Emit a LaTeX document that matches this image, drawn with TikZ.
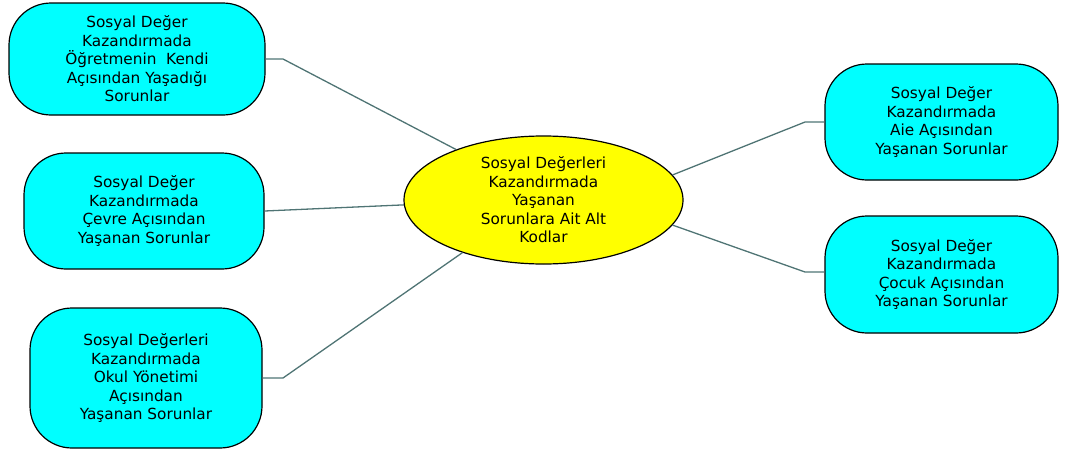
\documentclass[tikz,border=0pt]{standalone}
\usepackage{fontspec}
\setmainfont{DejaVu Sans}
\usetikzlibrary{shapes.geometric}
\definecolor{boxcyan}{HTML}{00FFFF}
\definecolor{ellyellow}{HTML}{FFFF00}
\definecolor{linkcol}{HTML}{4F7474}
\tikzset{
  subbox/.style={draw=black, line width=1.2pt, fill=boxcyan, rounded corners=42pt,
    align=center, inner sep=2pt, font=\fontsize{15.3}{18.5}\selectfont},
  mainell/.style={draw=black, line width=1.2pt, fill=ellyellow, ellipse, inner sep=0pt,
    align=center, font=\fontsize{15.3}{18.5}\selectfont},
  link/.style={draw=linkcol, line width=1.3pt}
}
\begin{document}
\begin{tikzpicture}[x=1pt,y=-1pt]
\useasboundingbox (0,0) rectangle (1065,450);
\node[mainell, minimum width=279pt, minimum height=128pt] (c) at (543.5,200)
  {Sosyal Değerleri\\Kazandırmada\\Yaşanan\\Sorunlara Ait Alt\\Kodlar};
\node[subbox, minimum width=256pt, minimum height=112pt] (b1) at (137,59)
  {Sosyal Değer\\Kazandırmada\\Öğretmenin\ \ Kendi\\Açısından Yaşadığı\\Sorunlar};
\node[subbox, minimum width=240pt, minimum height=116pt] (b2) at (144,211)
  {Sosyal Değer\\Kazandırmada\\Çevre Açısından\\Yaşanan Sorunlar};
\node[subbox, minimum width=232pt, minimum height=140pt] (b3) at (146,378)
  {Sosyal Değerleri\\Kazandırmada\\Okul Yönetimi\\Açısından\\Yaşanan Sorunlar};
\node[subbox, minimum width=233pt, minimum height=116pt] (b4) at (941.5,122)
  {Sosyal Değer\\Kazandırmada\\Aie Açısından\\Yaşanan Sorunlar};
\node[subbox, minimum width=233pt, minimum height=117pt] (b5) at (941.5,274.5)
  {Sosyal Değer\\Kazandırmada\\Çocuk Açısından\\Yaşanan Sorunlar};
\coordinate (k1) at (283,59);
\coordinate (k3) at (283,378);
\coordinate (k4) at (805,122);
\coordinate (k5) at (805,272);
\draw[link] (b1.east) -- (k1) -- (c.150);
\draw[link] (b2.east) -- (c.182.5);
\draw[link] (b3.east) -- (k3) -- (c.213);
\draw[link] (b4.west) -- (k4) -- (c.11);
\draw[link] (b5.west |- k5) -- (k5) -- (c.-11);
\end{tikzpicture}
\end{document}
